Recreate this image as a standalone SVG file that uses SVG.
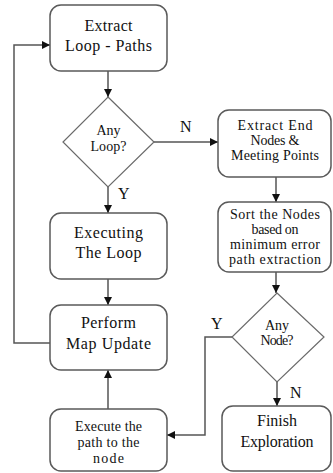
<svg xmlns="http://www.w3.org/2000/svg" width="333" height="473" viewBox="0 0 333 473">
<style>
.box{fill:#fff;stroke:#5a5a5a;stroke-width:1.5}
.dia{fill:#fff;stroke:#6a6a6a;stroke-width:1.2}
.ln{fill:none;stroke:#555;stroke-width:1.5}
text{font-family:"Liberation Serif","Times New Roman",serif;fill:#111}
.t{text-anchor:middle}
.big{font-size:16px}
.sm{font-size:14px}
.lbl{font-size:16px}
</style>
<defs>
<marker id="ah" viewBox="0 0 10 10" refX="10" refY="5" markerWidth="8" markerHeight="8" markerUnits="userSpaceOnUse" orient="auto">
<path d="M0,0 L10,5 L0,10 z" fill="#111"/>
</marker>
</defs>
<rect width="333" height="473" fill="#fff"/>
<g id="connectors">
<line class="ln" x1="108" y1="71" x2="108" y2="97" marker-end="url(#ah)"/>
<line class="ln" x1="154" y1="142" x2="218" y2="142" marker-end="url(#ah)"/>
<line class="ln" x1="108" y1="187" x2="108" y2="213" marker-end="url(#ah)"/>
<line class="ln" x1="108" y1="279" x2="108" y2="305" marker-end="url(#ah)"/>
<line class="ln" x1="108" y1="409" x2="108" y2="370" marker-end="url(#ah)"/>
<polyline class="ln" points="50,343 14,343 14,45 50,45" marker-end="url(#ah)"/>
<line class="ln" x1="276" y1="177" x2="276" y2="202" marker-end="url(#ah)"/>
<line class="ln" x1="276" y1="272" x2="276" y2="293" marker-end="url(#ah)"/>
<line class="ln" x1="277" y1="382" x2="277" y2="406" marker-end="url(#ah)"/>
<polyline class="ln" points="232,337 205,337 205,435 167,435" marker-end="url(#ah)"/>
<text class="lbl" x="180" y="132">N</text>
<text class="lbl" x="118" y="199">Y</text>
<text class="lbl" x="211" y="329">Y</text>
<text class="lbl" x="290" y="398">N</text>
</g>
<g id="extract-loop-paths">
<rect class="box" x="50" y="5" width="117" height="66" rx="11"/>
<text class="t big" x="108.5" y="31" textLength="48">Extract</text>
<text class="t big" x="108.5" y="51" textLength="87">Loop - Paths</text>
</g>
<g id="any-loop">
<polygon class="dia" points="108,97 154,142 108,187 63,142"/>
<text class="t sm" x="108.5" y="135" textLength="24">Any</text>
<text class="t sm" x="108.5" y="151" textLength="36">Loop?</text>
</g>
<g id="executing-loop">
<rect class="box" x="50" y="213" width="117" height="66" rx="11"/>
<text class="t big" x="108.5" y="238" textLength="69">Executing</text>
<text class="t big" x="108.5" y="258" textLength="66">The Loop</text>
</g>
<g id="perform-map-update">
<rect class="box" x="50" y="305" width="117" height="65" rx="11"/>
<text class="t big" x="108.5" y="328" textLength="55">Perform</text>
<text class="t big" x="108.5" y="349" textLength="85">Map Update</text>
</g>
<g id="execute-path">
<rect class="box" x="50" y="409" width="117" height="62" rx="11"/>
<text class="t sm" x="108.5" y="431" textLength="67">Execute the</text>
<text class="t sm" x="108.5" y="447" textLength="62">path to the</text>
<text class="t sm" x="108.5" y="463" textLength="31">node</text>
</g>
<g id="extract-end-nodes">
<rect class="box" x="218" y="110" width="113" height="67" rx="11"/>
<text class="t sm" x="275" y="130" textLength="75">Extract End</text>
<text class="t sm" x="275" y="145" textLength="49">Nodes &amp;</text>
<text class="t sm" x="275" y="160" textLength="88">Meeting Points</text>
</g>
<g id="sort-nodes">
<rect class="box" x="218" y="202" width="113" height="70" rx="11"/>
<text class="t sm" x="275" y="219" textLength="90">Sort the Nodes</text>
<text class="t sm" x="275" y="234" textLength="47">based on</text>
<text class="t sm" x="275" y="249" textLength="90">minimum error</text>
<text class="t sm" x="275" y="264" textLength="92">path extraction</text>
</g>
<g id="any-node">
<polygon class="dia" points="277,293 324,337 277,382 232,337"/>
<text class="t sm" x="277" y="330" textLength="24">Any</text>
<text class="t sm" x="277" y="345" textLength="33">Node?</text>
</g>
<g id="finish-exploration">
<rect class="box" x="222" y="406" width="109" height="65" rx="11"/>
<text class="t big" x="277" y="426" textLength="40">Finish</text>
<text class="t big" x="277" y="447" textLength="73">Exploration</text>
</g>
</svg>
